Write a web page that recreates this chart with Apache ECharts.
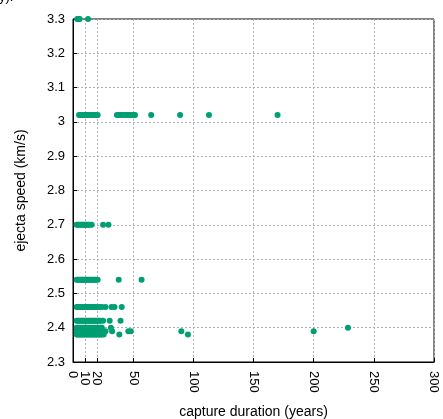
<!DOCTYPE html>
<html>
<head>
<meta charset="utf-8">
<script src="https://cdn.jsdelivr.net/npm/echarts@6/dist/echarts.min.js"></script>
<style>
html,body{margin:0;padding:0;background:#fff;}
#chart{width:443px;height:419px;}
</style>
</head>
<body>
<div id="chart"></div>
<script>
// capture durations (years) at each ejecta speed (km/s)
const speedLevels = [3.30, 3.02, 2.70, 2.54, 2.46, 2.42, 2.40, 2.39, 2.38];
const dur330 = [3.5, 4.5, 5.5, 12.5];
const dur302 = [5, 6, 7, 8, 9, 10, 11, 12, 13, 14, 15, 16, 17, 18, 19, 20.5,
  36.5, 38, 39.5, 41, 42.5, 44, 45.5, 47, 48.5, 50, 51.5, 65, 89, 113, 170];
const dur270 = [3, 4, 5, 6, 7, 8, 9, 10, 11, 12, 13, 14, 15.5, 25, 29.5];
const dur254 = [3, 4, 5, 6, 7, 8, 9, 10, 11, 12, 13, 14, 15, 16, 17, 18, 19, 20.5, 38, 57];
const dur246 = [3, 4, 5, 6, 7, 8, 9, 10, 11, 12, 13, 14, 15, 16, 17, 18, 19, 20, 22, 24, 27, 32, 34.5, 40.5];
const dur242 = [3, 4, 5, 6, 7, 8, 9, 10, 11, 12, 13, 14, 15, 16, 17, 18, 19, 20, 21, 22, 23, 25, 30.5, 39.5];
const dur240 = [3, 4, 5, 6, 7, 8, 9, 10, 11, 12, 13, 14, 15, 16, 17, 18, 19, 20, 21, 22, 23, 24, 31.5, 228.5];
const dur239 = [3, 4, 5, 6, 7, 8, 9, 10, 11, 12, 13, 14, 15, 16, 17, 18, 19, 20, 21, 22, 23, 25, 27, 32.5, 46, 48, 90, 200];
const dur238 = [3, 4, 5, 6, 7, 8, 9, 10, 11, 12, 13, 14, 15, 16, 17, 18, 19, 20, 21, 22, 23, 24, 25.5, 38.5, 95.5];
const durationGroups = [dur330, dur302, dur270, dur254, dur246, dur242, dur240, dur239, dur238];

const xTickValues = [0, 10, 20, 50, 100, 150, 200, 250, 300];
const xLabelsMain = [0, 20, 50, 100, 150, 200, 250, 300];
const xLabelsExtra = [10];
const xAxisTitle = 'capture duration (years)';
const yAxisTitle = 'ejecta speed (km/s)';

const points = [];
durationGroups.forEach((arr, i) => arr.forEach(d => points.push([d, speedLevels[i]])));

const FONT = '"Liberation Sans", Arial, sans-serif';
const gridLine = { show: true, lineStyle: { color: '#b0b0b0', type: [2, 2], width: 1 } };
const xLabelStyle = { rotate: -90, fontSize: 13, color: '#000', fontFamily: FONT, margin: 9,
  hideOverlap: false, showMinLabel: true, showMaxLabel: true };

const chart = echarts.init(document.getElementById('chart'), null, { renderer: 'canvas' });
chart.setOption({
  animation: false,
  backgroundColor: '#fff',
  textStyle: { fontFamily: FONT },
  grid: { left: 73, right: 9, top: 19, bottom: 57, outerBoundsMode: 'none', containLabel: false,
    show: true, borderColor: '#000', borderWidth: 1, backgroundColor: 'transparent' },
  graphic: [{ type: 'text', left: -1, top: -9, style: { text: 'y).', font: '13px ' + FONT, fill: '#000' } }],
  xAxis: [{
    type: 'value', min: 0, max: 300, interval: 10,
    name: xAxisTitle, nameLocation: 'middle', nameGap: 43,
    nameTextStyle: { fontSize: 14, color: '#000', fontFamily: FONT },
    axisLine: { show: true, onZero: false, lineStyle: { color: '#000', width: 1 } },
    axisTick: { show: true, inside: true, length: 4, customValues: xTickValues, lineStyle: { color: '#000' } },
    axisLabel: Object.assign({ customValues: xLabelsMain }, xLabelStyle),
    splitLine: gridLine
  }, {
    type: 'value', min: 0, max: 300, interval: 10, position: 'bottom', offset: 0,
    axisLine: { show: false, onZero: false },
    axisTick: { show: false },
    axisLabel: Object.assign({ customValues: xLabelsExtra }, xLabelStyle),
    splitLine: { show: false }
  }],
  yAxis: {
    type: 'value', min: 2.3, max: 3.3, interval: 0.1,
    name: yAxisTitle, nameLocation: 'middle', nameGap: 45, nameRotate: 90,
    nameTextStyle: { fontSize: 14, color: '#000', fontFamily: FONT },
    axisLine: { show: true, onZero: false, lineStyle: { color: '#000', width: 1 } },
    axisTick: { show: true, inside: true, length: 4, lineStyle: { color: '#000' } },
    axisLabel: { fontSize: 13, color: '#000', fontFamily: FONT, margin: 8,
      formatter: v => String(Math.round(v * 10) / 10) },
    splitLine: gridLine
  },
  series: [{
    type: 'scatter',
    xAxisIndex: 0,
    data: points,
    symbol: 'circle',
    symbolSize: 6,
    itemStyle: { color: '#009e73', opacity: 1 },
    clip: false
  }]
});
</script>
</body>
</html>
